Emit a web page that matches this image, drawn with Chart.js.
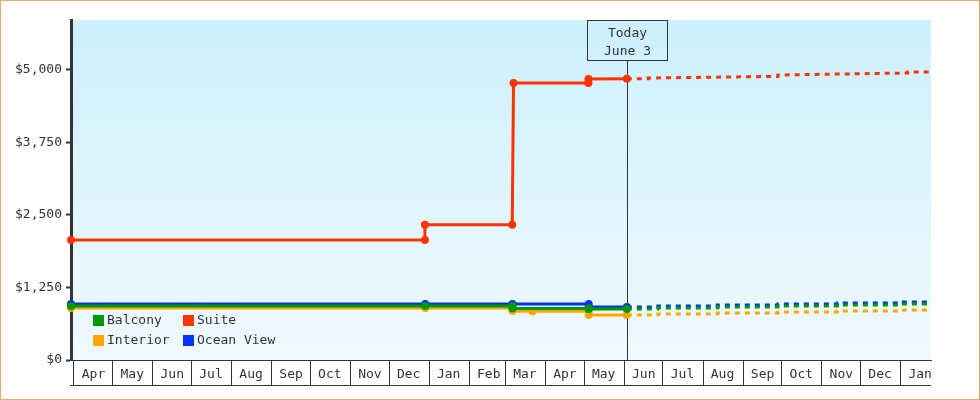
<!DOCTYPE html>
<html>
<head>
<meta charset="utf-8">
<script src="https://cdn.jsdelivr.net/npm/chart.js@4.4.0/dist/chart.umd.min.js"></script>
<style>
  html, body { margin: 0; padding: 0; background: #fff; }
  #wrap { width: 980px; height: 400px; box-sizing: border-box; border: 1px solid #e8aa66; }
  canvas { display: block; }
</style>
</head>
<body>
<div id="wrap"><canvas id="priceChart" width="978" height="398"></canvas></div>
<script>
// x values are days counted from Apr 1 of the first year
const monthLabels = ['Apr','May','Jun','Jul','Aug','Sep','Oct','Nov','Dec','Jan','Feb','Mar','Apr','May','Jun','Jul','Aug','Sep','Oct','Nov','Dec','Jan'];
const monthStarts = [0,30,61,91,122,153,183,214,244,275,306,334,365,395,426,456,487,518,548,579,609,640];
const yTicks = [0, 1250, 2500, 3750, 5000];
const today = 428;
const todayText = ['Today', 'June 3'];

const balconyDays   = [-2.3, 272, 339.5, 339.5, 398.5, 398.5, 428, 452, 452, 498, 498, 545, 545, 591, 591, 639, 639, 663.5];
const balconyPrices = [932, 932, 932, 889, 889, 880, 880, 880, 897, 897, 914, 914, 931, 931, 948, 948, 965, 965];

const suiteDays   = [-2.3, 271.7, 271.7, 339.3, 340.3, 398.3, 398.3, 428, 444.4, 444.4, 545, 545, 645.5, 645.5, 663.5];
const suitePrices = [2071, 2071, 2330, 2330, 4776, 4776, 4845, 4850, 4850, 4862, 4890, 4914, 4948, 4965, 4965];

const interiorDays   = [-2.3, 272, 339.5, 339.5, 355, 398.5, 398.5, 428, 452, 452, 498, 498, 545, 545, 591, 591, 639, 639, 663.5];
const interiorPrices = [897, 897, 897, 846, 840, 846, 777, 777, 777, 794, 794, 811, 811, 828, 828, 846, 846, 863, 863];

const oceanDays   = [-2.3, 272, 339.5, 398.5, 398.5, 428, 452, 452, 498, 498, 545, 545, 591, 591, 639, 639, 663.5];
const oceanPrices = [966, 966, 966, 966, 915, 915, 915, 932, 932, 949, 949, 966, 966, 984, 984, 1001, 1001];

const FONT = '13px "DejaVu Sans Mono", monospace';
const INK = '#333';

function pts(days, prices) {
    return days.map((d, i) => ({x: d, y: prices[i]}));
}

function series(label, color, days, prices) {
    return {
        label: label,
        data: pts(days, prices),
        borderColor: color,
        backgroundColor: color,
        borderWidth: 3,
        tension: 0,
        fill: false,
        clip: false,
        pointRadius: ctx => (ctx.raw && ctx.raw.x <= today) ? 4 : 0,
        pointBorderWidth: 0,
        pointHoverRadius: 0,
        segment: {
            borderDash: ctx => ctx.p0.parsed.x >= today ? [5, 5] : undefined
        }
    };
}

const decor = {
    id: 'decor',
    beforeDraw(chart) {
        const {ctx, chartArea: a} = chart;
        const g = ctx.createLinearGradient(0, a.top, 0, a.bottom);
        g.addColorStop(0, 'rgb(204,240,253)');
        g.addColorStop(1, 'rgb(240,249,254)');
        ctx.save();
        ctx.fillStyle = g;
        ctx.fillRect(a.left, a.top, a.right - a.left, a.bottom - a.top);
        ctx.restore();
    },
    beforeDatasetsDraw(chart) {
        const {ctx, chartArea: a, scales} = chart;
        const x = Math.round(scales.x.getPixelForValue(today)) + 0.5;
        ctx.save();
        ctx.strokeStyle = INK;
        ctx.lineWidth = 1;
        ctx.strokeRect(x - 40, a.top + 0.5, 80, 40);
        ctx.beginPath();
        ctx.moveTo(x, a.top + 40.5);
        ctx.lineTo(x, a.bottom);
        ctx.stroke();
        ctx.fillStyle = INK;
        ctx.font = FONT;
        ctx.textAlign = 'center';
        ctx.textBaseline = 'middle';
        ctx.fillText(todayText[0], x, a.top + 14);
        ctx.fillText(todayText[1], x, a.top + 32);
        ctx.restore();
    },
    afterDatasetsDraw(chart) {
        // legend, two columns in the lower left of the plot
        const {ctx, chartArea: a} = chart;
        ctx.save();
        ctx.font = FONT;
        ctx.textBaseline = 'middle';
        ctx.textAlign = 'left';
        chart.data.datasets.forEach((ds, i) => {
            const lx = a.left + 22 + (i % 2) * 90;
            const ly = a.bottom - 45 + Math.floor(i / 2) * 20;
            ctx.fillStyle = ds.borderColor;
            ctx.fillRect(lx, ly, 11, 11);
            ctx.fillStyle = INK;
            ctx.fillText(ds.label, lx + 14, ly + 6);
        });
        ctx.restore();
    },
    afterDraw(chart) {
        const {ctx, chartArea: a} = chart;
        ctx.save();
        ctx.strokeStyle = INK;
        ctx.lineWidth = 1;
        ctx.beginPath();
        ctx.moveTo(a.left - 1, a.bottom + 25.5);
        ctx.lineTo(a.right, a.bottom + 25.5);
        ctx.stroke();
        ctx.restore();
    }
};

new Chart(document.getElementById('priceChart'), {
    type: 'line',
    data: {
        datasets: [
            series('Balcony', '#009900', balconyDays, balconyPrices),
            series('Suite', '#ff3300', suiteDays, suitePrices),
            series('Interior', '#ffa500', interiorDays, interiorPrices),
            series('Ocean View', '#0033ff', oceanDays, oceanPrices)
        ]
    },
    options: {
        responsive: false,
        animation: false,
        events: [],
        layout: {padding: {top: 19, right: 48, left: 0, bottom: 0}},
        plugins: {legend: {display: false}, tooltip: {enabled: false}},
        scales: {
            x: {
                type: 'linear',
                min: -2.3,
                max: 663.5,
                afterBuildTicks: axis => { axis.ticks = monthStarts.map(v => ({value: v})); },
                afterFit: axis => { axis.height = 39; },
                grid: {drawOnChartArea: false, drawTicks: true, tickLength: 25, color: INK, lineWidth: 1},
                border: {display: true, color: INK, width: 1},
                ticks: {
                    autoSkip: false,
                    maxRotation: 0,
                    labelOffset: 19.5,
                    padding: -18,
                    color: INK,
                    font: {family: '"DejaVu Sans Mono", monospace', size: 13},
                    callback: (v, i) => monthLabels[i]
                }
            },
            y: {
                min: 0,
                max: 5862,
                afterBuildTicks: axis => { axis.ticks = yTicks.map(v => ({value: v})); },
                afterFit: axis => { axis.width = 70; },
                grid: {drawOnChartArea: false, drawTicks: true, tickLength: 5, tickWidth: 2, tickColor: INK},
                border: {display: true, color: INK, width: 3},
                ticks: {
                    padding: 4,
                    color: INK,
                    font: {family: '"DejaVu Sans Mono", monospace', size: 13},
                    callback: v => '$' + v.toLocaleString('en-US')
                }
            }
        }
    },
    plugins: [decor]
});
</script>
</body>
</html>
